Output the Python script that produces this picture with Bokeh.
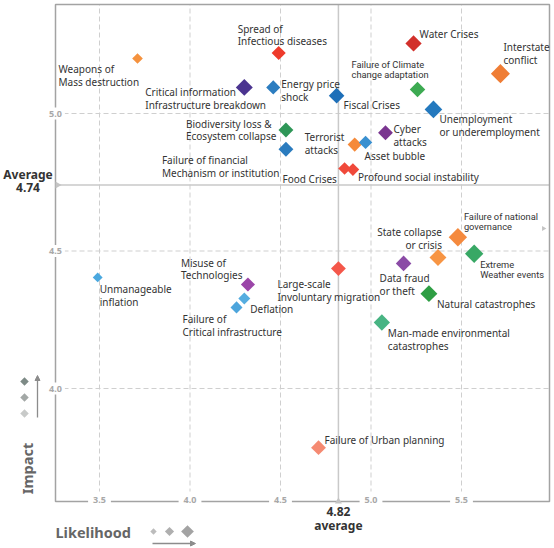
import math
from bokeh.plotting import figure
from bokeh.models import ColumnDataSource, Range1d, Arrow, NormalHead
from bokeh.embed import file_html
from bokeh.resources import INLINE
from bokeh.core.properties import value

# ---------------- data ----------------
risks = [
    "Weapons of\nMass destruction", "Spread of\nInfectious diseases",
    "Critical information\nInfrastructure breakdown", "Energy price\nshock",
    "Fiscal Crises", "Water Crises", "Interstate\nconflict",
    "Failure of Climate\nchange adaptation", "Unemployment\nor underemployment",
    "Biodiversity loss &\nEcosystem collapse", "Failure of financial\nMechanism or institution",
    "Terrorist\nattacks", "Asset bubble", "Cyber\nattacks", "Food Crises",
    "Profound social instability", "Unmanageable\ninflation", "Misuse of\nTechnologies",
    "Deflation", "Failure of\nCritical infrastructure", "Large-scale\nInvoluntary migration",
    "Data fraud\nor theft", "State collapse\nor crisis", "Failure of national\ngovernance",
    "Extreme\nWeather events", "Natural catastrophes", "Man-made environmental\ncatastrophes",
    "Failure of Urban planning",
]
likelihood = [3.71, 4.49, 4.30, 4.46, 4.81, 5.235, 5.715, 5.257, 5.345, 4.53, 4.53,
              4.91, 4.97, 5.08, 4.854, 4.90, 3.49, 4.32, 4.30, 4.257, 4.82, 5.18,
              5.37, 5.48, 5.57, 5.32, 5.06, 4.71]
impact = [5.20, 5.22, 5.095, 5.095, 5.065, 5.255, 5.145, 5.087, 5.015, 4.94, 4.87,
          4.887, 4.895, 4.93, 4.80, 4.796, 4.404, 4.378, 4.327, 4.295, 4.436, 4.455,
          4.476, 4.55, 4.49, 4.345, 4.24, 3.785]
x_ticks = [3.5, 4.0, 4.5, 5.0, 5.5]
y_ticks = [4.0, 4.5, 5.0]
avg_likelihood = 4.82
avg_impact = 4.74

# ---------------- styles / layout ----------------
colors = ["#F5923E", "#EE3B2B", "#4B3490", "#2C7DC0", "#1E6FB8", "#D2302B", "#EF7D35",
          "#3DAA52", "#2479BE", "#2E9657", "#2A7BBE", "#F58A3A", "#3A90D0", "#7A3590",
          "#F0493A", "#F0493A", "#4AA8DF", "#9B45A8", "#56ADE0", "#4DA5DC", "#F4574A",
          "#8B4BA6", "#F79544", "#F58A3E", "#38A865", "#2E9E44", "#48B483", "#F58A72"]
marker_px = [7.5, 10, 12, 10, 11, 11.5, 13.5, 11, 12.5, 10.5, 10.5, 10, 9.5, 10.5, 9, 9,
             7, 10, 8.5, 8.5, 10.5, 11, 12, 13, 13, 12, 11.5, 10.5]
# label offsets in pixels (dx, dy to text block centre), alignment
lab_dx = [-79, -41, -99, 8, 7, 6, 3, -66, 6, -100, -124, -50, -1, 8, -62, 5, 2, -67, 6,
          -54, -61, -24, 4, 6, 6, 8, 6, 6]
lab_dy = [17, -18, 11.5, 3, 9, -9, -20, -20, 16, 0, 17.5, -1, 14, 3, 10, 7, 18, -15.5, 10,
          18.5, 21.5, 21, -19, -16, 16, 10, 17, -8]
lab_align = ["left"] * 28
lab_align[22] = "right"
narrow = {7, 23, 24}
BODY_FONT = "Noto Sans"
NARROW_FONT = "Roboto"
lab_font = [NARROW_FONT if i in narrow else BODY_FONT for i in range(28)]
lab_size = ["9.3px" if i in narrow else "10px" for i in range(28)]

PX_X, PX_Y = 181.0, 275.0
def X(px):
    return 3.5 + (px - 99) / PX_X
def Y(py):
    return 5.0 - (py - 113) / PX_Y

LEFT, RIGHT, TOP, BOTTOM = X(55), X(549), Y(4), Y(501)

p = figure(width=554, height=548, x_range=Range1d(X(0), X(554)),
           y_range=Range1d(Y(548), Y(0)), output_backend="svg",
           toolbar_location=None, x_axis_location=None, y_axis_location=None,
           min_border=0)
p.grid.visible = False
p.outline_line_color = None
p.background_fill_color = "white"
p.border_fill_color = "white"

GRID = "#cfcfcf"
# dashed grid
p.segment(x0=x_ticks, y0=[BOTTOM] * len(x_ticks), x1=x_ticks, y1=[TOP] * len(x_ticks),
          line_color=GRID, line_dash="5 3", line_width=1)
p.segment(x0=[LEFT] * len(y_ticks), y0=y_ticks, x1=[RIGHT] * len(y_ticks), y1=y_ticks,
          line_color=GRID, line_dash="5 3", line_width=1)
# average lines
p.segment(x0=[avg_likelihood], y0=[BOTTOM], x1=[avg_likelihood], y1=[TOP],
          line_color="#c9c9c9", line_width=1.5)
p.segment(x0=[LEFT], y0=[avg_impact], x1=[RIGHT], y1=[avg_impact],
          line_color="#c9c9c9", line_width=1.5)
# frame
p.quad(left=[LEFT], right=[RIGHT], top=[TOP], bottom=[BOTTOM], fill_color=None,
       line_color="#a3a3a3", line_width=1.5)

# tick labels on the frame
p.text(x=x_ticks, y=[BOTTOM] * len(x_ticks), text=[f"{t:.1f}" for t in x_ticks],
       text_align="center", text_baseline="middle", text_font=value(BODY_FONT),
       text_font_size="9px", text_font_style="bold", text_color="#a8a8a8",
       y_offset=-2, background_fill_color="white", padding=5)
p.text(x=[LEFT] * len(y_ticks), y=y_ticks, text=[f"{t:.1f}" for t in y_ticks],
       text_align="center", text_baseline="middle", text_font=value(BODY_FONT),
       text_font_size="9px", text_font_style="bold", text_color="#a8a8a8",
       background_fill_color="white", padding=3)

# average markers
p.scatter(x=[LEFT + 2 / PX_X], y=[avg_impact], marker="triangle", angle=-math.pi / 2,
          size=7, fill_color="#c4c4c4", line_color=None)
p.scatter(x=[avg_likelihood], y=[BOTTOM], marker="triangle", size=7,
          fill_color="#c4c4c4", line_color=None)
p.scatter(x=[X(543)], y=[Y(228)], marker="triangle", angle=-math.pi / 2, size=5,
          fill_color="#c4c4c4", line_color=None)

# data points
src = ColumnDataSource(dict(x=likelihood, y=impact, name=risks, color=colors,
                            size=marker_px))
p.scatter(x="x", y="y", source=src, marker="square", angle=math.pi / 4, size="size",
          fill_color="color", line_color=None)

for al in ("left", "right"):
    idx = [i for i in range(len(risks)) if lab_align[i] == al]
    s = ColumnDataSource(dict(x=[likelihood[i] for i in idx], y=[impact[i] for i in idx],
                              name=[risks[i] for i in idx], dx=[lab_dx[i] for i in idx],
                              dy=[lab_dy[i] for i in idx], font=[lab_font[i] for i in idx],
                              fs=[lab_size[i] for i in idx]))
    p.text(x="x", y="y", text="name", source=s, x_offset="dx", y_offset="dy",
           text_align=al, text_baseline="middle", text_font="font",
           text_font_size="fs", text_color="#333333", text_line_height=0.92)

# average annotations
p.text(x=[X(27.5)], y=[avg_impact], text=[f"Average\n{avg_impact:.2f}"], y_offset=-4,
       text_align="center", text_baseline="middle", text_font=value(BODY_FONT),
       text_font_size="12px", text_font_style="bold", text_color="#333333",
       text_line_height=0.8)
p.text(x=[avg_likelihood], y=[BOTTOM], text=[f"{avg_likelihood:.2f}\naverage"], y_offset=17,
       text_align="center", text_baseline="middle", text_font=value(BODY_FONT),
       text_font_size="12px", text_font_style="bold", text_color="#333333",
       text_line_height=0.78)

# axis titles and keys
p.text(x=[X(26)], y=[Y(468)], text=["Impact"], angle=math.pi / 2, text_align="center",
       text_baseline="middle", text_font=value(BODY_FONT), text_font_size="14.5px",
       text_font_style="bold", text_color="#666666")
p.text(x=[X(55)], y=[Y(531)], text=["Likelihood"], text_align="left",
       text_baseline="middle", text_font=value(BODY_FONT), text_font_size="14.5px",
       text_font_style="bold", text_color="#666666")

p.scatter(x=[X(24)] * 3, y=[Y(381), Y(397), Y(413)], marker="square", angle=math.pi / 4,
          size=6, fill_color=["#7d8a86", "#a3a8a6", "#c8cac9"], line_color=None)
p.scatter(x=[X(153), X(169), X(187)], y=[Y(531)] * 3, marker="square", angle=math.pi / 4,
          size=[4.5, 6.5, 9], fill_color=["#bcbcbc", "#afafaf", "#a3a3a3"], line_color=None)

p.add_layout(Arrow(end=NormalHead(size=5, fill_color="#8c8c8c", line_color="#8c8c8c"),
                   x_start=X(37), y_start=Y(417), x_end=X(37), y_end=Y(375),
                   line_color="#8c8c8c", line_width=1.3))
p.add_layout(Arrow(end=NormalHead(size=5, fill_color="#8c8c8c", line_color="#8c8c8c"),
                   x_start=X(152), y_start=Y(543), x_end=X(195), y_end=Y(543),
                   line_color="#8c8c8c", line_width=1.3))

open("out.html", "w").write(file_html(p, INLINE))
